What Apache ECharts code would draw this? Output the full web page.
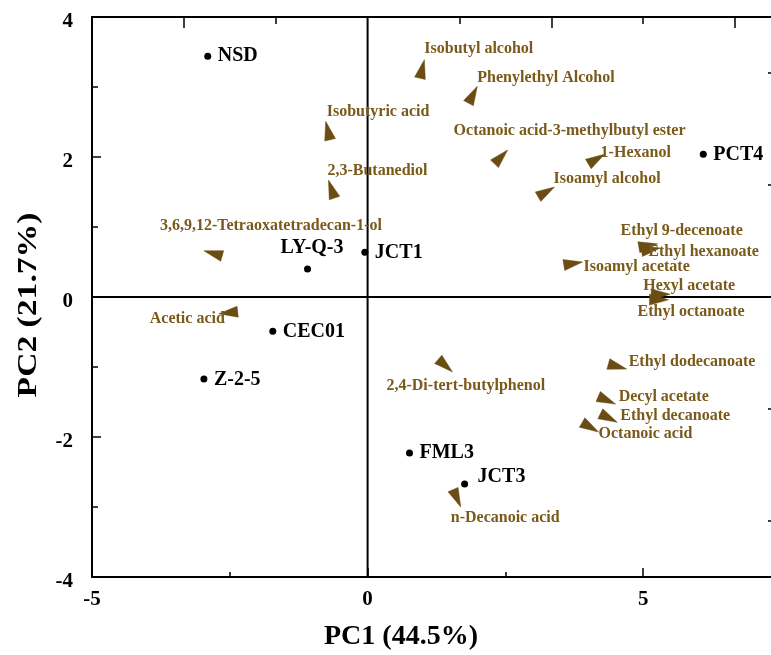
<!DOCTYPE html>
<html>
<head>
<meta charset="utf-8">
<script src="https://cdn.jsdelivr.net/npm/echarts@6/dist/echarts.min.js"></script>
<style>
html,body{margin:0;padding:0;background:#fff;overflow:hidden;width:771px;height:655px;}
#chart{width:781px;height:655px;}
</style>
</head>
<body>
<div id="chart"></div>
<script>
// ---- data ----
const sampleNames = ['NSD', 'PCT4', 'LY-Q-3', 'JCT1', 'CEC01', 'Z-2-5', 'FML3', 'JCT3'];
const samplePC1 = [-2.90, 6.09, -1.09, -0.05, -1.72, -2.97, 0.76, 1.76];
const samplePC2 = [3.44, 2.04, 0.40, 0.64, -0.49, -1.17, -2.23, -2.67];

const varNames = [
  'Isobutyl alcohol', 'Phenylethyl Alcohol', 'Isobutyric acid', '2,3-Butanediol',
  'Octanoic acid-3-methylbutyl ester', '1-Hexanol', 'Isoamyl alcohol',
  'Ethyl 9-decenoate', 'Ethyl hexanoate', 'Isoamyl acetate', 'Hexyl acetate',
  'Ethyl octanoate', 'Ethyl dodecanoate', 'Decyl acetate', 'Ethyl decanoate',
  'Octanoic acid', '2,4-Di-tert-butylphenol', 'n-Decanoic acid',
  '3,6,9,12-Tetraoxatetradecan-1-ol', 'Acetic acid'
];
const varPC1 = [1.03, 1.99, -0.76, -0.71, 2.54, 4.30, 3.39, 5.26, 5.31, 3.90, 5.49, 5.46, 4.70, 4.50, 4.53, 4.19, 1.54, 1.69, -2.97, -2.70];
const varPC2 = [3.39, 3.01, 2.51, 1.67, 2.10, 2.04, 1.57, 0.76, 0.70, 0.50, 0.04, -0.04, -1.03, -1.53, -1.79, -1.93, -1.07, -3.00, 0.66, -0.24];

const xTickLabels = [-5, 0, 5];
const xMinorTicks = [-2.5, 2.5];
const yTickLabels = [-4, -2, 0, 2, 4];
const yMinorTicks = [-3, -1, 1, 3];
const topLongTicks = [-10 / 3, 10 / 3, 20 / 3];
const topShortTicks = [-5 / 3, 5 / 3, 5];
const rightTicks = [-3.2, -1.6, 1.6, 3.2];

// ---- style (label placement in pixels) ----
const varLabelOffset = {
  'Isobutyl alcohol': [0, -11], 'Phenylethyl Alcohol': [0, -8], 'Isobutyric acid': [1, -9],
  '2,3-Butanediol': [-1, -9], 'Octanoic acid-3-methylbutyl ester': [-54, -19], '1-Hexanol': [-4, -1],
  'Isoamyl alcohol': [-1, -8], 'Ethyl 9-decenoate': [-37, -13], 'Ethyl hexanoate': [-12, 4],
  'Isoamyl acetate': [1, 5], 'Hexyl acetate': [-27, -8], 'Ethyl octanoate': [-31, 12],
  'Ethyl dodecanoate': [2, -7], 'Decyl acetate': [3, -7], 'Ethyl decanoate': [3, -6],
  'Octanoic acid': [0, 2], '2,4-Di-tert-butylphenol': [-66, 14], 'n-Decanoic acid': [-10, 11],
  '3,6,9,12-Tetraoxatetradecan-1-ol': [-44, -25], 'Acetic acid': [-69, 5]
};
const sampleLabelOffset = {
  'NSD': [10, 0], 'PCT4': [10, 1], 'LY-Q-3': [-27, -21], 'JCT1': [10, 1],
  'CEC01': [10, 1], 'Z-2-5': [10, 1], 'FML3': [10, 0], 'JCT3': [13, -7]
};

const SERIF = '"Liberation Serif","Times New Roman",serif';
const BROWN_TEXT = '#7A5A1A';
const BROWN_FILL = '#6B4C12';

const chart = echarts.init(document.getElementById('chart'), null, {renderer: 'canvas'});

function txt(x, y, text, font, color, align) {
  return {
    type: 'text', x: x, y: y,
    style: {text: text, font: font, fill: color, align: align || 'left', verticalAlign: 'middle',
            textAlign: align || 'left', textVerticalAlign: 'middle'}
  };
}

const baseX = {type: 'value', min: -5, max: 7.5, gridIndex: 0, splitLine: {show: false},
  axisLine: {show: false, onZero: false}, axisLabel: {show: false}, axisTick: {show: false}};
const baseY = {type: 'value', min: -4, max: 4, gridIndex: 0, splitLine: {show: false},
  axisLine: {show: false, onZero: false}, axisLabel: {show: false}, axisTick: {show: false}};
const lineStyle = {color: '#000', width: 2};

const option = {
  backgroundColor: '#fff',
  animation: false,
  grid: {left: 92, right: 0, top: 17, bottom: 78, containLabel: false},
  xAxis: [
    Object.assign({}, baseX, {position: 'bottom',
      axisLine: {show: true, onZero: false, lineStyle: lineStyle},
      axisTick: {show: true, inside: true, length: 9, lineStyle: {color: '#000', width: 1.5}, customValues: xTickLabels},
      axisLabel: {show: true, customValues: xTickLabels, margin: 12, color: '#000',
        fontFamily: SERIF, fontWeight: 'bold', fontSize: 21}}),
    Object.assign({}, baseX, {position: 'bottom',
      axisTick: {show: true, inside: true, length: 5, lineStyle: {color: '#000', width: 1.5}, customValues: xMinorTicks}}),
    Object.assign({}, baseX, {position: 'top',
      axisLine: {show: true, onZero: false, lineStyle: lineStyle},
      axisTick: {show: true, inside: true, length: 11, lineStyle: {color: '#000', width: 1.5}, customValues: topLongTicks}}),
    Object.assign({}, baseX, {position: 'top',
      axisTick: {show: true, inside: true, length: 7, lineStyle: {color: '#000', width: 1.5}, customValues: topShortTicks}})
  ],
  yAxis: [
    Object.assign({}, baseY, {position: 'left',
      axisLine: {show: true, onZero: false, lineStyle: lineStyle},
      axisTick: {show: true, inside: true, length: 9, lineStyle: {color: '#000', width: 1.5}, customValues: yTickLabels},
      axisLabel: {show: true, customValues: yTickLabels, margin: 19, color: '#000',
        verticalAlign: 'top', lineHeight: 10,
        fontFamily: SERIF, fontWeight: 'bold', fontSize: 21}}),
    Object.assign({}, baseY, {position: 'left',
      axisTick: {show: true, inside: true, length: 6, lineStyle: {color: '#000', width: 1.5}, customValues: yMinorTicks}}),
    Object.assign({}, baseY, {position: 'right',
      axisLine: {show: true, onZero: false, lineStyle: lineStyle},
      axisTick: {show: true, inside: true, length: 13, lineStyle: {color: '#000', width: 1.5}, customValues: rightTicks}})
  ],
  graphic: [
    {type: 'text', x: 401, y: 637, style: {text: 'PC1 (44.5%)', font: 'bold 28px ' + SERIF, fill: '#000',
      align: 'center', verticalAlign: 'middle', textAlign: 'center', textVerticalAlign: 'middle'}},
    {type: 'text', x: 29, y: 305, rotation: Math.PI / 2, scaleX: 1.2, style: {text: 'PC2 (21.7%)', font: 'bold 28px ' + SERIF, fill: '#000',
      align: 'center', verticalAlign: 'middle', textAlign: 'center', textVerticalAlign: 'middle'}}
  ],
  series: [
    {
      type: 'custom', name: 'zero', xAxisIndex: 0, yAxisIndex: 0, silent: true, clip: false,
      data: [[0, 0]],
      renderItem: function (params, api) {
        const o = api.coord([0, 0]);
        const cs = params.coordSys;
        return {type: 'group', children: [
          {type: 'line', shape: {x1: o[0], y1: cs.y, x2: o[0], y2: cs.y + cs.height}, style: {stroke: '#000', lineWidth: 2}},
          {type: 'line', shape: {x1: cs.x, y1: o[1], x2: cs.x + cs.width, y2: o[1]}, style: {stroke: '#000', lineWidth: 2}}
        ]};
      }
    },
    {
      type: 'custom', name: 'variables', xAxisIndex: 0, yAxisIndex: 0, clip: false,
      data: varNames.map(function (n, i) { return [varPC1[i], varPC2[i]]; }),
      renderItem: function (params, api) {
        const p = api.coord([api.value(0), api.value(1)]);
        const o = api.coord([0, 0]);
        let ux = p[0] - o[0], uy = p[1] - o[1];
        const len = Math.hypot(ux, uy) || 1;
        ux /= len; uy /= len;
        const L = 19, W = 5.5;
        const bx = p[0] - ux * L, by = p[1] - uy * L;
        const name = varNames[params.dataIndex];
        const off = varLabelOffset[name] || [0, 0];
        return {type: 'group', children: [
          {type: 'polygon', shape: {points: [[p[0], p[1]], [bx - uy * W, by + ux * W], [bx + uy * W, by - ux * W]]},
            style: {fill: BROWN_FILL, stroke: BROWN_FILL, lineWidth: 0.5}},
          txt(p[0] + off[0], p[1] + off[1], name, 'bold 16px ' + SERIF, BROWN_TEXT)
        ]};
      }
    },
    {
      type: 'custom', name: 'samples', xAxisIndex: 0, yAxisIndex: 0, clip: false,
      data: sampleNames.map(function (n, i) { return [samplePC1[i], samplePC2[i]]; }),
      renderItem: function (params, api) {
        const p = api.coord([api.value(0), api.value(1)]);
        const name = sampleNames[params.dataIndex];
        const off = sampleLabelOffset[name] || [8, 0];
        return {type: 'group', children: [
          {type: 'circle', shape: {cx: p[0], cy: p[1], r: 3.5}, style: {fill: '#000'}},
          txt(p[0] + off[0], p[1] + off[1], name, 'bold 20px ' + SERIF, '#000')
        ]};
      }
    }
  ]
};
chart.setOption(option);
</script>
</body>
</html>
